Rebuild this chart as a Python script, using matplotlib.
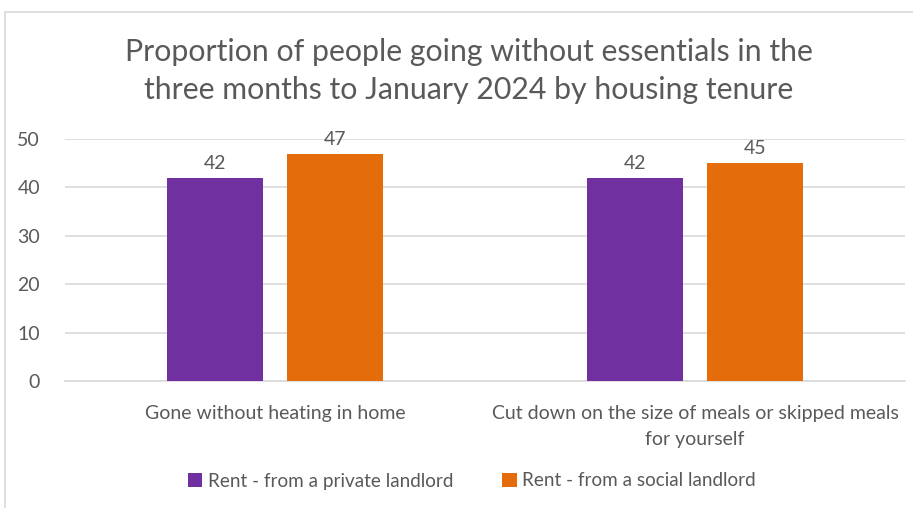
import matplotlib
matplotlib.use("Agg")
import matplotlib.pyplot as plt
from matplotlib.patches import Rectangle
import numpy as np

categories = ["Gone without heating in home",
              "Cut down on the size of meals or skipped meals\nfor yourself"]
series_names = ["Rent - from a private landlord", "Rent - from a social landlord"]
private_vals = [42, 42]
social_vals = [47, 45]
colors = ["#7030a0", "#e46c0a"]
yticks = [0, 10, 20, 30, 40, 50]

plt.rcParams['font.family'] = ['Lato', 'DejaVu Sans']
text_col = "#595959"
fs = 14

fig = plt.figure(figsize=(9.13, 5.08), dpi=100)
fig.patches.append(Rectangle((5 / 913, -0.1), 1.1, 1 - 12 / 508 + 0.1,
                             transform=fig.transFigure, fill=False,
                             edgecolor="#d9d9d9", linewidth=1.2))

ax = fig.add_axes([65 / 913, 1 - 381 / 508, 840 / 913, 242 / 508])
x = np.arange(len(categories))
w = 0.229
off = 0.143
for i, (vals, name) in enumerate(zip([private_vals, social_vals], series_names)):
    pos = x + (off if i else -off)
    bars = ax.bar(pos, vals, width=w, color=colors[i], label=name, zorder=3)
    for b, v in zip(bars, vals):
        ax.text(b.get_x() + b.get_width() / 2, v + 1.2, str(v), ha="center",
                va="bottom", fontsize=fs, color=text_col)

ax.set_xlim(-0.5, 1.5)
ax.set_ylim(0, 50)
ax.set_yticks(yticks)
ax.yaxis.grid(True, color="#d9d9d9", linewidth=1.2, zorder=0)
for s in ["top", "right", "left"]:
    ax.spines[s].set_visible(False)
ax.spines["bottom"].set_color("#d9d9d9")
ax.spines["bottom"].set_linewidth(1.2)
ax.tick_params(axis="both", length=0, labelsize=fs, colors=text_col)
ax.tick_params(axis="y", pad=18)
ax.set_xticks(x)
ax.set_xticklabels(categories, linespacing=1.65)
ax.tick_params(axis="x", pad=17)

fig.text(469 / 913, 1 - 71 / 508,
         "Proportion of people going without essentials in the\nthree months to January 2024 by housing tenure",
         ha="center", va="center", fontsize=21.8, color=text_col, linespacing=1.4)

fig.legend(loc="center", bbox_to_anchor=(472 / 913, 1 - 481 / 508), ncol=2,
           frameon=False, fontsize=13.6, handlelength=0.75, handleheight=0.75,
           handletextpad=0.3, columnspacing=2.6, labelcolor=text_col)

fig.savefig("out.png", dpi=100)
